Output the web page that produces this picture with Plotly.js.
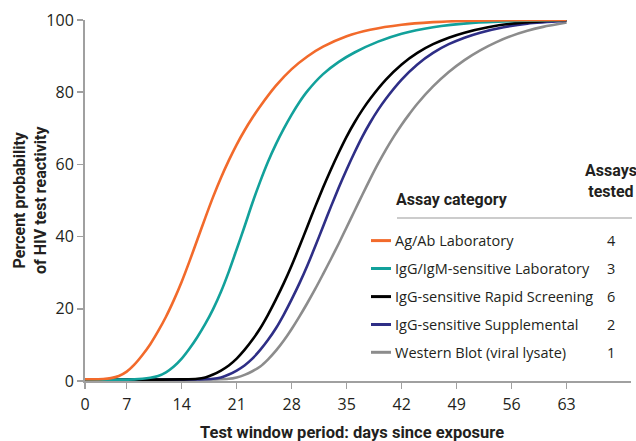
<!DOCTYPE html>
<html>
<head>
<meta charset="utf-8">
<script src="https://cdn.plot.ly/plotly-3.0.1.min.js"></script>
<style>html,body{margin:0;padding:0;background:#fff;}#chart{width:636px;height:441px;}</style>
</head>
<body>
<div id="chart"></div>
<script>
// ---- data ----
const seriesNames = ["Ag/Ab Laboratory", "IgG/IgM-sensitive Laboratory", "IgG-sensitive Rapid Screening", "IgG-sensitive Supplemental", "Western Blot (viral lysate)"];
const assaysTested = [4, 3, 6, 2, 1];

const orangeDays = [1.7, 4, 5, 6, 7, 8, 9, 10, 11, 12, 13, 14, 15, 16, 17, 18, 19, 20, 21, 22, 23, 24, 26, 28, 30, 32, 35, 38, 42, 46, 50, 56, 63];
const orangeVals = [0.5, 0.55, 0.8, 1.4, 2.6, 4.6, 7.2, 10.2, 13.8, 17.8, 22.4, 27.5, 33.2, 39.2, 45.2, 51.0, 56.3, 61.1, 65.5, 69.4, 72.9, 76.1, 81.8, 86.4, 89.9, 92.6, 95.5, 97.3, 98.7, 99.4, 99.75, 99.95, 100];

const tealDays = [1.7, 8, 9, 10, 11, 12, 13, 14, 15, 16, 17, 18, 19, 20, 21, 22, 23, 24, 25, 26, 27, 28, 29, 30, 32, 34, 36, 39, 42, 46, 51, 56, 63];
const tealVals = [0.4, 0.45, 0.6, 0.9, 1.4, 2.4, 4.0, 6.2, 9.0, 12.2, 15.8, 19.9, 24.7, 30.3, 36.5, 42.8, 49.3, 55.3, 60.8, 65.6, 69.9, 73.8, 77.3, 80.3, 85.0, 88.4, 91.0, 94.0, 96.2, 98.0, 99.2, 99.7, 100];

const blackDays = [1.7, 14, 16, 17, 18, 19, 20, 21, 22, 23, 24, 25, 26, 27, 28, 29, 30, 31, 32, 33, 34, 35, 36, 37, 38, 40, 42, 44, 46, 48, 50, 53, 56, 60, 63];
const blackVals = [0.4, 0.45, 0.6, 1.0, 1.8, 2.9, 4.3, 6.2, 8.6, 11.4, 14.6, 18.4, 22.6, 27.1, 32.0, 37.3, 42.8, 48.3, 53.6, 58.6, 63.3, 67.7, 71.6, 75.1, 78.2, 83.5, 87.7, 90.9, 93.3, 95.1, 96.5, 98.0, 99.0, 99.7, 100];

const blueDays = [1.7, 16, 18, 19, 20, 21, 22, 23, 24, 25, 26, 27, 28, 29, 30, 31, 32, 33, 34, 35, 36, 37, 38, 39, 40, 42, 44, 46, 48, 50, 52, 55, 58, 63];
const blueVals = [0.4, 0.45, 0.6, 1.0, 1.8, 2.9, 4.3, 6.2, 8.6, 11.4, 14.6, 18.4, 22.6, 27.1, 32.0, 37.3, 42.8, 48.3, 53.6, 58.6, 63.3, 67.7, 71.6, 75.1, 78.2, 83.5, 87.7, 90.9, 93.3, 95.1, 96.5, 98.0, 99.0, 99.8];

const grayDays = [1.7, 18, 20, 21, 22, 23, 24, 25, 26, 27, 28, 29, 30, 31, 32, 33, 34, 35, 36, 37, 38, 39, 40, 41, 42, 43, 44, 46, 48, 50, 52, 54, 56, 58, 60, 63];
const grayVals = [0.4, 0.45, 0.6, 1.0, 1.7, 2.7, 4.0, 6.0, 8.4, 11.2, 14.4, 17.9, 21.6, 25.5, 29.6, 33.8, 38.1, 42.6, 47.1, 51.6, 56.0, 60.2, 64.1, 67.7, 71.0, 74.0, 76.8, 81.6, 85.6, 88.9, 91.6, 93.8, 95.6, 97.0, 98.1, 99.3];

const xTickVals = [1.69, 7, 14, 21, 28, 35, 42, 49, 56, 63];
const xTickText = ["0", "7", "14", "21", "28", "35", "42", "49", "56", "63"];
const yTickVals = [0, 20, 40, 60, 80, 100];

// ---- styling ----
const colors = ["#F26A2B", "#12A19B", "#000000", "#2E2E86", "#8C8C8C"];
const FONT = "'Open Sans', Roboto, sans-serif";
const BFONT = "Roboto, 'Open Sans', sans-serif";
const TXT = "#231F20";
const W = 636, H = 441, ML = 85, MR = 5, MT = 20, MB = 60;
const PW = W - ML - MR, PH = H - MT - MB;
const fx = p => (p - ML) / PW;
const fy = p => (H - MB - p) / PH;

const allDays = [orangeDays, tealDays, blackDays, blueDays, grayDays];
const allVals = [orangeVals, tealVals, blackVals, blueVals, grayVals];

const traces = seriesNames.map((name, i) => ({
  type: "scatter", mode: "lines", name: name,
  x: allDays[i], y: allVals[i],
  line: {color: colors[i], width: 2.6, shape: "spline", smoothing: 0.8},
  showlegend: false, hoverinfo: "skip"
}));
traces.reverse(); // warm colours drawn on top

const itemY = [240.6, 268.5, 296.6, 324.5, 352.3];
const shapes = [
  {type: "line", xref: "paper", yref: "paper", x0: fx(397), x1: fx(632), y0: fy(218), y1: fy(218),
   line: {color: "#9A9A9A", width: 1.2}}
];
const annotations = [
  {xref: "paper", yref: "paper", x: fx(394), y: fy(199.5), xanchor: "left", yanchor: "middle",
   text: "<b>Assay category</b>", showarrow: false, font: {family: BFONT, size: 16, color: TXT}},
  {xref: "paper", yref: "paper", x: fx(610.5), y: fy(181.5), xanchor: "center", yanchor: "middle", align: "center",
   text: "<b>Assays<br>tested</b>", showarrow: false, font: {family: BFONT, size: 16, color: TXT}},
  {xref: "paper", yref: "paper", x: fx(352), y: fy(432), xanchor: "center", yanchor: "middle",
   text: "<b>Test window period: days since exposure</b>", showarrow: false, font: {family: BFONT, size: 16.5, color: TXT}},
  {xref: "paper", yref: "paper", x: fx(30), y: fy(200), xanchor: "center", yanchor: "middle", textangle: -90, align: "center",
   text: "<b>Percent probability<br>of HIV test reactivity</b>", showarrow: false, font: {family: BFONT, size: 16, color: TXT}}
];
seriesNames.forEach((name, i) => {
  shapes.push({type: "line", xref: "paper", yref: "paper", x0: fx(371), x1: fx(391), y0: fy(itemY[i]), y1: fy(itemY[i]),
    line: {color: colors[i], width: 3}});
  annotations.push({xref: "paper", yref: "paper", x: fx(393), y: fy(itemY[i]), xanchor: "left", yanchor: "middle",
    text: name, showarrow: false, font: {family: FONT, size: 14.5, color: TXT}});
  annotations.push({xref: "paper", yref: "paper", x: fx(611), y: fy(itemY[i]), xanchor: "center", yanchor: "middle",
    text: String(assaysTested[i]), showarrow: false, font: {family: FONT, size: 14.5, color: TXT}});
});

const layout = {
  width: W, height: H,
  margin: {l: ML, r: MR, t: MT, b: MB, pad: 0},
  paper_bgcolor: "#fff", plot_bgcolor: "#fff",
  font: {family: FONT, color: TXT, size: 16},
  showlegend: false,
  xaxis: {
    range: [1.69, 71.2], tickmode: "array", tickvals: xTickVals, ticktext: xTickText,
    showgrid: false, zeroline: false, showline: true, linecolor: "#A0A0A0", linewidth: 2,
    ticks: "outside", ticklen: 6, tickwidth: 1.5, tickcolor: "#A0A0A0",
    ticklabelstandoff: 2,
    tickfont: {family: FONT, size: 16, color: TXT},
    automargin: false, fixedrange: true
  },
  yaxis: {
    range: [0, 100], tickmode: "array", tickvals: yTickVals,
    showgrid: false, zeroline: false, showline: true, linecolor: "#A0A0A0", linewidth: 2,
    ticks: "outside", ticklen: 6, tickwidth: 1.5, tickcolor: "#A0A0A0",
    tickfont: {family: FONT, size: 16, color: TXT},
    automargin: false, fixedrange: true
  },
  shapes: shapes,
  annotations: annotations
};

Plotly.newPlot("chart", traces, layout, {displayModeBar: false, staticPlot: true});
</script>
</body>
</html>
